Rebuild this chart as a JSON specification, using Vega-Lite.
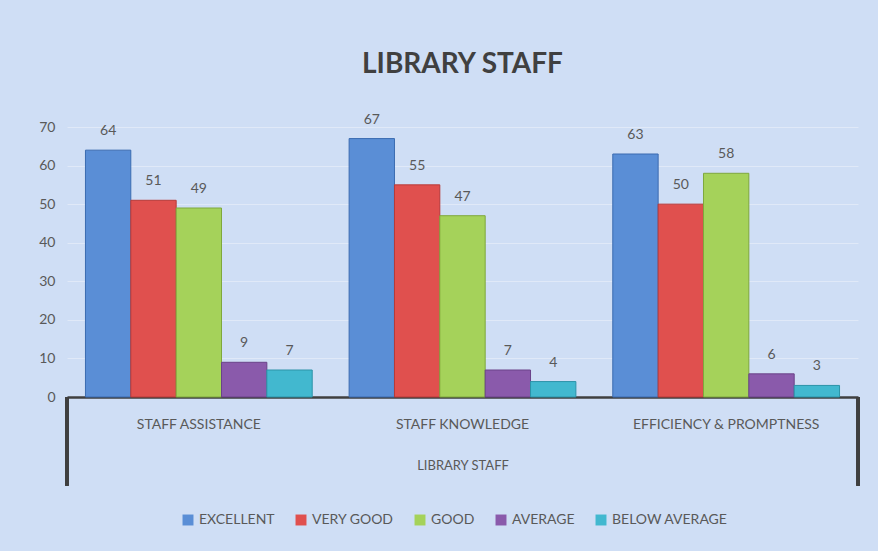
{
  "$schema": "https://vega.github.io/schema/vega-lite/v6.json",
  "autosize": "none",
  "width": 791,
  "height": 270,
  "padding": {"left": 67, "top": 127, "right": 20, "bottom": 154},
  "background": "#cfdef5",
  "config": {
    "font": "Lato",
    "view": {"stroke": null},
    "axis": {"labelFont": "Lato", "titleFont": "Lato", "labelColor": "#595959", "titleColor": "#595959"},
    "legend": {"labelFont": "Lato"}
  },
  "title": {
    "text": "LIBRARY STAFF",
    "fontSize": 28,
    "fontWeight": "bold",
    "color": "#404040",
    "anchor": "middle",
    "offset": 34,
    "font": "Lato"
  },
  "data": {
    "values": [
      {"group": "STAFF ASSISTANCE", "rating": "EXCELLENT", "value": 64},
      {"group": "STAFF ASSISTANCE", "rating": "VERY GOOD", "value": 51},
      {"group": "STAFF ASSISTANCE", "rating": "GOOD", "value": 49},
      {"group": "STAFF ASSISTANCE", "rating": "AVERAGE", "value": 9},
      {"group": "STAFF ASSISTANCE", "rating": "BELOW AVERAGE", "value": 7},
      {"group": "STAFF KNOWLEDGE", "rating": "EXCELLENT", "value": 67},
      {"group": "STAFF KNOWLEDGE", "rating": "VERY GOOD", "value": 55},
      {"group": "STAFF KNOWLEDGE", "rating": "GOOD", "value": 47},
      {"group": "STAFF KNOWLEDGE", "rating": "AVERAGE", "value": 7},
      {"group": "STAFF KNOWLEDGE", "rating": "BELOW AVERAGE", "value": 4},
      {"group": "EFFICIENCY & PROMPTNESS", "rating": "EXCELLENT", "value": 63},
      {"group": "EFFICIENCY & PROMPTNESS", "rating": "VERY GOOD", "value": 50},
      {"group": "EFFICIENCY & PROMPTNESS", "rating": "GOOD", "value": 58},
      {"group": "EFFICIENCY & PROMPTNESS", "rating": "AVERAGE", "value": 6},
      {"group": "EFFICIENCY & PROMPTNESS", "rating": "BELOW AVERAGE", "value": 3}
    ]
  },
  "encoding": {
    "x": {
      "field": "group",
      "type": "nominal",
      "sort": ["STAFF ASSISTANCE", "STAFF KNOWLEDGE", "EFFICIENCY & PROMPTNESS"],
      "scale": {"paddingInner": 0.14, "paddingOuter": 0.07},
      "axis": {
        "title": "LIBRARY STAFF",
        "titleFontSize": 13,
        "titleFontWeight": "normal",
        "titlePadding": 28,
        "labelAngle": 0,
        "labelFontSize": 14,
        "labelPadding": 20,
        "labelLimit": 400,
        "ticks": false,
        "domainColor": "#3f3f3f",
        "domainWidth": 2.5
      }
    },
    "y": {
      "field": "value",
      "type": "quantitative",
      "scale": {"domain": [0, 70]},
      "axis": {
        "title": null,
        "values": [0, 10, 20, 30, 40, 50, 60, 70],
        "labelOverlap": false,
        "labelFontSize": 14,
        "labelPadding": 12,
        "ticks": false,
        "domain": false,
        "gridColor": "#ffffff",
        "gridOpacity": 0.35
      }
    }
  },
  "layer": [
    {
      "mark": {"type": "bar", "strokeWidth": 1},
      "encoding": {
        "xOffset": {"field": "rating", "type": "nominal", "sort": ["EXCELLENT", "VERY GOOD", "GOOD", "AVERAGE", "BELOW AVERAGE"]},
        "color": {
          "field": "rating",
          "type": "nominal",
          "sort": ["EXCELLENT", "VERY GOOD", "GOOD", "AVERAGE", "BELOW AVERAGE"],
          "scale": {
            "domain": ["EXCELLENT", "VERY GOOD", "GOOD", "AVERAGE", "BELOW AVERAGE"],
            "range": ["#5a8ed6", "#e0504e", "#a5d25a", "#8a5aab", "#42b8cf"]
          },
          "legend": {
            "title": null,
            "orient": "none",
            "direction": "horizontal",
            "legendX": 114,
            "legendY": 386,
            "symbolType": "square",
            "symbolSize": 120,
            "symbolStrokeWidth": 0,
            "labelFontSize": 14,
            "labelColor": "#595959",
            "columnPadding": 19,
            "labelOffset": 4
          }
        },
        "stroke": {
          "field": "rating",
          "type": "nominal",
          "scale": {
            "domain": ["EXCELLENT", "VERY GOOD", "GOOD", "AVERAGE", "BELOW AVERAGE"],
            "range": ["#3b6bb0", "#b83a38", "#7fa83c", "#6a4389", "#2c93a8"]
          },
          "legend": null
        }
      }
    },
    {
      "mark": {"type": "text", "baseline": "bottom", "dy": -12, "fontSize": 14, "color": "#595959", "font": "Lato"},
      "encoding": {
        "xOffset": {"field": "rating", "type": "nominal", "sort": ["EXCELLENT", "VERY GOOD", "GOOD", "AVERAGE", "BELOW AVERAGE"]},
        "text": {"field": "value", "type": "quantitative"}
      }
    },
    {
      "mark": {"type": "rule", "color": "#3f3f3f", "strokeWidth": 2.5},
      "encoding": {
        "x": {"datum": "STAFF ASSISTANCE", "bandPosition": -0.0815},
        "y": {"datum": 0},
        "y2": {"datum": -23}
      }
    },
    {
      "mark": {"type": "rule", "color": "#3f3f3f", "strokeWidth": 2.5},
      "encoding": {
        "x": {"datum": "EFFICIENCY & PROMPTNESS", "bandPosition": 1.0815},
        "y": {"datum": 0},
        "y2": {"datum": -23}
      }
    }
  ]
}
